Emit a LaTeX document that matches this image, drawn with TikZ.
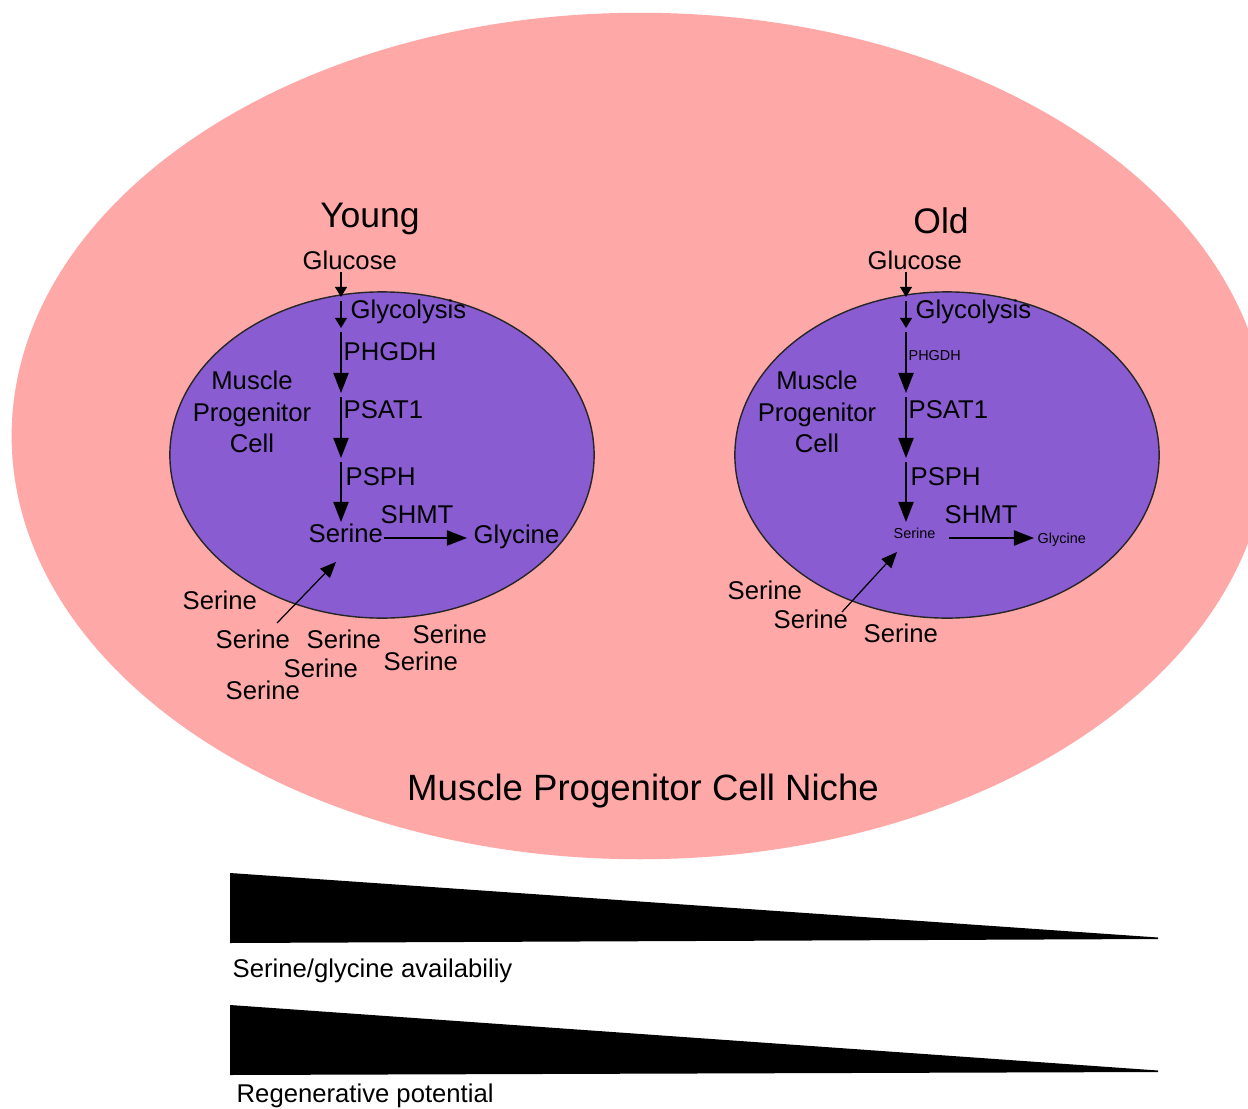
\documentclass[tikz,border=0pt]{standalone}
\usepackage{fontspec}
\setmainfont{Liberation Sans}
\usetikzlibrary{arrows.meta, shapes.geometric}

\definecolor{nichepink}{RGB}{255,168,168}
\definecolor{cellpurple}{RGB}{138,92,210}

\begin{document}
\begin{tikzpicture}[x=0.01cm, y=-0.01cm]
    % --- Style Definitions ---
    \tikzset{
        % The niche around the cells
        niche style/.style={
            ellipse,
            fill=nichepink,
            minimum width=12.56cm,
            minimum height=8.46cm
        },
        % A muscle progenitor cell
        cell style/.style={
            ellipse,
            fill=cellpurple,
            draw=black!85,
            line width=0.4pt,
            minimum width=4.24cm,
            minimum height=3.26cm
        },
        % Text styling
        title text/.style={
            font=\fontsize{10.1}{12}\selectfont,
            inner sep=0pt,
            anchor=base
        },
        label text/.style={
            font=\fontsize{7.3}{9}\selectfont,
            inner sep=0pt,
            anchor=base west
        },
        tiny text/.style={
            font=\fontsize{4.1}{5}\selectfont,
            inner sep=0pt,
            anchor=base west
        },
        % Arrow styling
        step arrow/.style={
            -{Triangle[length=5.7pt, width=4.3pt]},
            line width=0.5pt
        },
        entry arrow/.style={
            -{Triangle[length=2.9pt, width=3.4pt]},
            line width=0.5pt
        },
        uptake arrow/.style={
            -{Triangle[length=4.5pt, width=3.8pt]},
            line width=0.35pt
        }
    }

    \useasboundingbox (0,0) rectangle (1248,1109);
    \clip (0,0) rectangle (1248,1109);

    % --- 1. Niche and Cells ---
    \node[niche style] (niche) at (640,436) {};
    \node[cell style] (youngcell) at (382,455) {};
    \node[cell style] (oldcell) at (947,455) {};

    \node[title text] (young) at (370,227) {Young};
    \node[title text] (old) at (941,233) {Old};
    \node[title text, font=\fontsize{10.4}{12}\selectfont] (nichelbl) at (643,800) {Muscle Progenitor Cell Niche};

    % --- 2. Shared labels of both cells ---
    \foreach \cx/\cell in {341/y, 906/o} {
        \node[label text] (\cell-glc) at (\cx-39,269) {Glucose};
        \node[label text] (\cell-glyc) at (\cx+9,318) {Glycolysis};
        \node[label text] (\cell-psat) at (\cx+2,418) {PSAT1};
        \node[label text] (\cell-psph) at (\cx+4,485) {PSPH};
        \node[label text, anchor=center, align=center] (\cell-mpc) at (\cx-89,412)
            {Muscle\\Progenitor\\Cell};

        % pathway down the cell
        \coordinate (\cell-a0) at (\cx,272);
        \coordinate (\cell-a1) at (\cx,297);
        \coordinate (\cell-b0) at (\cx,301);
        \coordinate (\cell-b1) at (\cx,328);
        \coordinate (\cell-c0) at (\cx,332);
        \coordinate (\cell-c1) at (\cx,393);
        \coordinate (\cell-d0) at (\cx,397);
        \coordinate (\cell-d1) at (\cx,458);
        \coordinate (\cell-e0) at (\cx,462);
        \coordinate (\cell-e1) at (\cx,522);
        \draw[entry arrow] (\cell-a0) -- (\cell-a1);
        \draw[entry arrow] (\cell-b0) -- (\cell-b1);
        \draw[step arrow] (\cell-c0) -- (\cell-c1);
        \draw[step arrow] (\cell-d0) -- (\cell-d1);
        \draw[step arrow] (\cell-e0) -- (\cell-e1);
    }

    % --- 3. Young cell ---
    \node[label text] (y-phgdh) at (343,360) {PHGDH};
    \node[label text] (y-shmt) at (380,523) {SHMT};
    \node[label text] (y-ser) at (308,542) {Serine};
    \node[label text] (y-gly) at (473,543) {Glycine};
    \coordinate (y-s0) at (384,538);
    \coordinate (y-s1) at (467,538);
    \draw[step arrow] (y-s0) -- (y-s1);

    % serine around the young cell
    \foreach \sx/\sy [count=\i] in {182/609, 215/648, 306/648, 412/643, 283/677, 383/670, 225/699}
        \node[label text] (y-out\i) at (\sx,\sy) {Serine};
    \coordinate (y-u0) at (277,623);
    \coordinate (y-u1) at (336,562);
    \draw[uptake arrow] (y-u0) -- (y-u1);

    % --- 4. Old cell ---
    \node[tiny text] (o-phgdh) at (908,360) {PHGDH};
    \node[label text] (o-shmt) at (944,523) {SHMT};
    \node[tiny text] (o-ser) at (893,538) {Serine};
    \node[tiny text] (o-gly) at (1037,543) {Glycine};
    \coordinate (o-s0) at (949,538);
    \coordinate (o-s1) at (1034,538);
    \draw[step arrow] (o-s0) -- (o-s1);

    % serine around the old cell
    \foreach \sx/\sy [count=\i] in {727/599, 773/628, 863/642}
        \node[label text] (o-out\i) at (\sx,\sy) {Serine};
    \coordinate (o-u0) at (842,612);
    \coordinate (o-u1) at (897,552);
    \draw[uptake arrow] (o-u0) -- (o-u1);

    % --- 5. Gradients ---
    \fill[black] (230,873) -- (230,943) -- (1158,939) -- (1158,937.5) -- cycle;
    \node[label text] (availlbl) at (232,977) {Serine/glycine availabiliy};

    \fill[black] (230,1005) -- (230,1075) -- (1158,1072) -- (1158,1070.5) -- cycle;
    \node[label text] (regenlbl) at (236,1102) {Regenerative potential};

\end{tikzpicture}
\end{document}
